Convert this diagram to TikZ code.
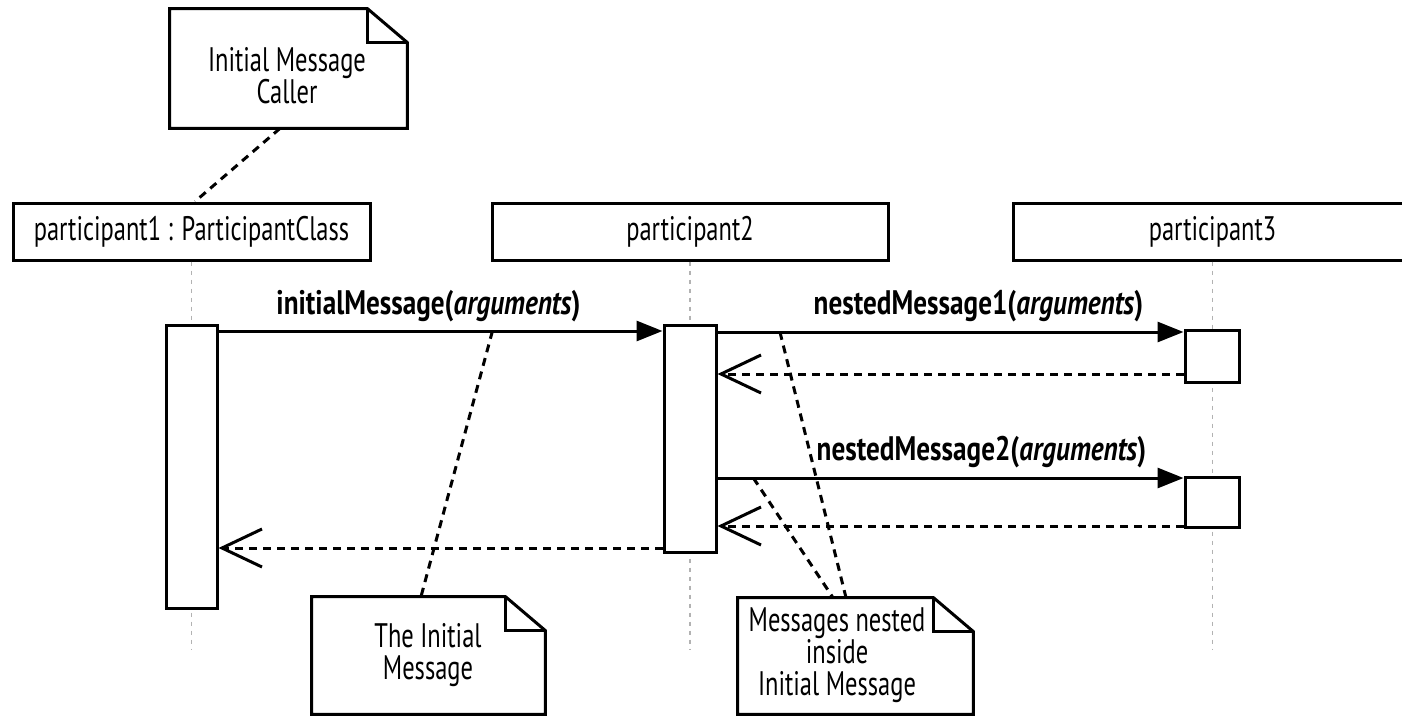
\documentclass[tikz,border=0pt]{standalone}
\usepackage{fontspec}
\setmainfont{PT Sans}[FakeStretch=0.72]
\newfontfamily\msgfont{PT Sans}[FakeStretch=0.8]
\usetikzlibrary{arrows.meta}

% outline of a note with a folded corner
\newcommand{\notebox}[1]{%
  \draw[line width=1.5pt] (#1.south west) -- (#1.north west) -- ([xshift=-20pt]#1.north east)
    -- ([yshift=-17pt]#1.north east) -- (#1.south east) -- cycle;
  \draw[line width=1.5pt] ([xshift=-20pt]#1.north east) |- ([yshift=-17pt]#1.north east);}

\tikzset{
  box/.style={draw, line width=1.5pt, inner sep=0pt, minimum height=28.5pt},
  bar/.style={draw, fill=white, line width=1.5pt, inner sep=0pt},
  note/.style={inner sep=0pt},
  msglabel/.style={font=\fontsize{17}{16}\msgfont\bfseries},
  lifeline/.style={gray!60, line width=0.75pt, dash pattern=on 2pt off 2.5pt},
  msg/.style={line width=1.5pt, -{Triangle[length=13pt,width=10pt]}},
  reply/.style={line width=1.5pt, dash pattern=on 4pt off 3pt,
    -{Straight Barb[length=20pt,width=19pt,line width=1.5pt]}},
  link/.style={line width=1.5pt, dash pattern=on 4pt off 3pt},
  every node/.style={font=\fontsize{17}{16}\selectfont}
}

\begin{document}
\begin{tikzpicture}[x=0.5pt,y=-0.5pt]
  \useasboundingbox (0,0) rectangle (1402,717);

  % participants
  \node[box, minimum width=178.5pt] (p1) at (191.5,231.5) {participant1 : ParticipantClass};
  \node[box, minimum width=198pt] (p2) at (690,231.5) {participant2};
  \node[box, minimum width=199.5pt] (p3) at (1212.5,231.5) {participant3};

  \draw[lifeline] (p1.south) -- (p1.south |- 0,650);
  \draw[lifeline] (p2.south) -- (p2.south |- 0,650);
  \draw[lifeline] (p3.south) -- (p3.south |- 0,650);

  % activations
  \node[bar, minimum width=25.5pt, minimum height=141.5pt] (a1) at (191.5,466.5) {};
  \node[bar, minimum width=26pt, minimum height=113.5pt] (a2) at (690,438.5) {};
  \node[bar, minimum width=27pt, minimum height=26pt] (a3) at (1212,356) {};
  \node[bar, minimum width=27pt, minimum height=25pt] (a4) at (1212,502) {};

  % messages
  \draw[msg] (a1.east |- 0,331) -- coordinate[pos=0.617] (m0)
    node[msglabel, midway, yshift=12.5pt, xshift=-6pt] {initialMessage(\textit{arguments})}
    (a2.west |- 0,331);
  \draw[msg] (a2.east |- 0,332) -- coordinate[pos=0.134] (m1)
    node[msglabel, midway, yshift=13pt, xshift=14pt] {nestedMessage1(\textit{arguments})}
    (a3.west |- 0,332);
  \draw[reply] (a3.west |- 0,374) -- (a2.east |- 0,374);
  \draw[msg] (a2.east |- 0,478) -- coordinate[pos=0.077] (m2)
    node[msglabel, midway, yshift=13pt, xshift=15.5pt] {nestedMessage2(\textit{arguments})}
    (a4.west |- 0,478);
  \draw[reply] (a4.west |- 0,526) -- (a2.east |- 0,526);
  \draw[reply] (a2.west |- 0,548) -- (a1.east |- 0,548);

  % notes
  \node[note, minimum width=118.5pt, minimum height=59.5pt] (n1) at (288.5,68.5) {};
  \notebox{n1}
  \node[align=center] (n1text) at (287,76) {Initial Message\\Caller};
  \node[note, minimum width=116.5pt, minimum height=58.5pt] (n2) at (428.5,655.5) {};
  \notebox{n2}
  \node[align=center] (n2text) at (428,655) {The Initial\\Message};
  \node[note, minimum width=117.5pt, minimum height=58pt] (n3) at (855.5,656) {};
  \notebox{n3}
  \node[align=center] (n3text) at (837,655.5) {Messages nested\\inside\\Initial Message};

  \draw[link] ([xshift=-4.25pt]n1.south) -- ([xshift=1.75pt]p1.north);
  \draw[link] (m0) -- ([xshift=-3.75pt]n2.north);
  \draw[link] (m1) -- ([xshift=-4.75pt]n3.north);
  \draw[link] (m2) -- ([xshift=-11.25pt]n3.north);
\end{tikzpicture}
\end{document}
